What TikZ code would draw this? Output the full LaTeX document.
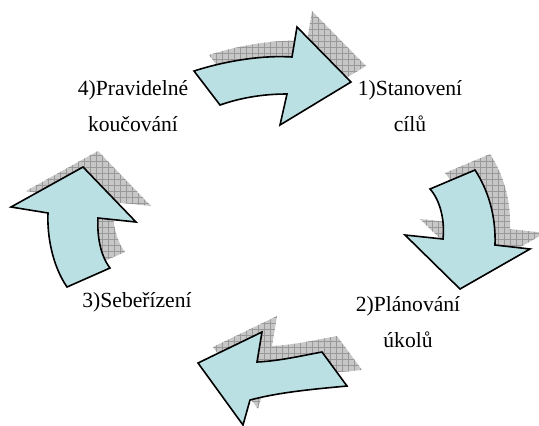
\documentclass[tikz,border=0pt]{standalone}
\usepackage{fontspec}
\setmainfont{Liberation Serif}
\usetikzlibrary{patterns}

\definecolor{arrowblue}{RGB}{187,224,227}

\tikzset{
  arrowbody/.style={draw=black,fill=arrowblue,line width=0.8pt,line join=miter},
  arrowshade/.style={preaction={fill=black!22},pattern=grid,pattern color=black!40,shift={(15,-16)}},
  steplabel/.style={align=center,font=\fontsize{10.8}{18}\selectfont,inner sep=0pt,anchor=base}
}

% arrow outlines (pixel units, y downwards)
\newcommand{\goalarrow}{(194,71) .. controls (225,61) and (262,55) .. (292,57) -- (297,27) -- (351,82) -- (280,125) -- (287,94) .. controls (262,94) and (240,98) .. (220,105) -- cycle}
\newcommand{\planarrow}{(430,189) -- (475,170) .. controls (488,190) and (496,215) .. (495,245) -- (530,249) -- (460,289) -- (405,235) -- (443,239) .. controls (445,220) and (440,200) .. cycle}
\newcommand{\selfarrow}{(322,352) -- (347,386) .. controls (315,389) and (280,392) .. (250,400) -- (243,425) -- (198,363) -- (262,332) -- (257,362) .. controls (280,361) and (305,355) .. cycle}
\newcommand{\coacharrow}{(67,287) -- (110,268) .. controls (100,255) and (97,235) .. (98,218) -- (136,222) -- (83,167) -- (11,207) -- (48,213) .. controls (47,235) and (52,265) .. cycle}

\begin{document}
\begin{tikzpicture}[x=0.5pt,y=-0.5pt]
\useasboundingbox (0,0) rectangle (539,425);

% shadows
\fill[arrowshade] \goalarrow;
\fill[arrowshade] \planarrow;
\fill[arrowshade] \selfarrow;
\fill[arrowshade] \coacharrow;

% arrows
\draw[arrowbody] \goalarrow;
\draw[arrowbody] \planarrow;
\draw[arrowbody] \selfarrow;
\draw[arrowbody] \coacharrow;

% labels
\node[steplabel] (goal) at (410,131) {1)Stanovení\\cílů};
\node[steplabel] (plan) at (408,347) {2)Plánování\\úkolů};
\node[steplabel] (self) at (137,307) {3)Sebeřízení};
\node[steplabel] (coach) at (133,131) {4)Pravidelné\\koučování};
\end{tikzpicture}
\end{document}
